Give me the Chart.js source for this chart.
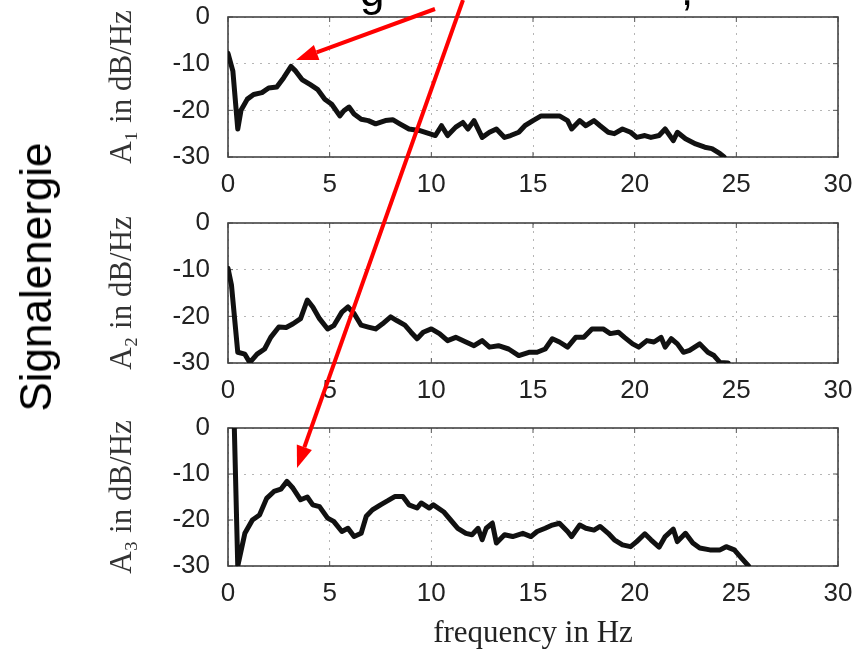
<!DOCTYPE html>
<html>
<head>
<meta charset="utf-8">
<script src="https://cdn.jsdelivr.net/npm/chart.js@4.4.1/dist/chart.umd.min.js"></script>
<style>
  body { margin: 0; background: #fff; }
  #wrap { position: relative; width: 859px; height: 652px; overflow: hidden; background: #fff; }
  canvas { position: absolute; left: 0; }
  .label { position: absolute; font-family: "Liberation Sans", Arial, sans-serif; color: #000; white-space: nowrap; }
</style>
</head>
<body>
<div id="wrap">
  <canvas id="c1" width="859" height="205" style="top:0"></canvas>
  <canvas id="c2" width="859" height="205" style="top:205px"></canvas>
  <canvas id="c3" width="859" height="242" style="top:410px"></canvas>
  <canvas id="arrows" width="859" height="652" style="top:0"></canvas>
  <div class="label" id="side" style="font-size:44px;left:36px;top:277px;transform:translate(-50%,-50%) rotate(-90deg);">Signalenergie</div>
  <div class="label" style="font-size:44px;line-height:44px;left:360px;top:-31px;">g</div>
  <div class="label" style="font-size:44px;line-height:44px;left:681px;top:-32px;">,</div>
</div>
<script>
// frequency axis ticks and amplitude ticks
var freqTicks = [0, 5, 10, 15, 20, 25, 30];
var ampTicks = [-30, -20, -10, 0];

// A1
var f1 = [0, 0.24, 0.48, 0.64, 0.95, 1.26, 1.67, 2.0, 2.4, 2.74, 3.1, 3.33, 3.64, 4.05, 4.4, 4.76, 5.1, 5.5, 5.7, 5.95,
  6.2, 6.55, 6.9, 7.26, 7.74, 8.1, 8.45, 8.9, 9.4, 9.9, 10.2, 10.5, 10.8, 11.2, 11.55, 11.8, 12.1, 12.5, 12.86, 13.2,
  13.6, 13.9, 14.3, 14.6, 15.0, 15.4, 15.8, 16.3, 16.7, 16.9, 17.3, 17.6, 18.0, 18.3, 18.7, 19.0, 19.4, 19.8, 20.1, 20.5,
  20.8, 21.2, 21.5, 21.9, 22.1, 22.5, 23.0, 23.45, 23.8, 24.2, 24.4];
var a1 = [-7.8, -11.6, -24, -20, -17.6, -16.6, -16.2, -15.2, -15, -13, -10.6, -11.6, -13.4, -14.5, -15.5, -17.6, -18.7, -21.2, -20.1, -19.3,
  -20.8, -21.9, -22.2, -22.9, -22.2, -22, -22.9, -24, -24.3, -25, -25.4, -23.3, -25.4, -23.6, -22.6, -24, -22.2, -25.8, -24.7, -24,
  -25.8, -25.4, -24.7, -23.3, -22.2, -21.2, -21.2, -21.2, -22.2, -24, -22.2, -23.3, -22.2, -23.3, -24.7, -25, -24, -24.7, -25.8, -25.4,
  -25.8, -25.4, -24, -26.5, -24.7, -26.1, -27.2, -27.9, -28.2, -29.3, -30];

// A2
var f2 = [0, 0.17, 0.48, 0.83, 1.07, 1.43, 1.8, 2.1, 2.5, 2.86, 3.2, 3.57, 3.9, 4.17, 4.5, 4.9, 5.2, 5.6, 5.9, 6.2,
  6.55, 6.9, 7.26, 7.6, 8.0, 8.3, 8.7, 9.0, 9.3, 9.6, 10.0, 10.4, 10.8, 11.2, 11.7, 12.1, 12.5, 12.86, 13.3, 13.8,
  14.3, 14.8, 15.2, 15.6, 15.95, 16.3, 16.7, 17.1, 17.5, 17.9, 18.45, 18.8, 19.2, 19.5, 19.9, 20.2, 20.6, 20.95, 21.3, 21.5,
  21.8, 22.1, 22.4, 22.7, 23.2, 23.6, 23.9, 24.2, 24.6];
var a2 = [-9.7, -13.3, -27.7, -28.1, -29.9, -28.1, -27, -24.5, -22.3, -22.4, -21.6, -20.5, -16.5, -18, -20.5, -22.7, -22, -19.1, -18, -19.4,
  -21.9, -22.3, -22.7, -21.6, -20.1, -20.9, -21.9, -23.4, -24.8, -23.4, -22.7, -23.7, -25.2, -24.5, -25.5, -26.3, -25.2, -26.6, -26.3, -27,
  -28.4, -27.7, -27.7, -27, -24.8, -25.5, -26.6, -24.5, -24.5, -22.7, -22.7, -23.7, -23.4, -24.5, -25.9, -26.6, -25.2, -25.5, -24.5, -26.6,
  -24.8, -25.9, -27.7, -27.3, -25.9, -27.7, -28.4, -29.9, -30];

// A3
var f3 = [0.3, 0.48, 0.83, 1.2, 1.55, 1.9, 2.26, 2.6, 2.9, 3.2, 3.57, 3.9, 4.17, 4.5, 4.9, 5.2, 5.6, 5.9, 6.2, 6.55,
  6.8, 7.1, 7.5, 7.86, 8.2, 8.6, 8.9, 9.3, 9.5, 9.9, 10.1, 10.6, 10.95, 11.3, 11.7, 12.0, 12.3, 12.5, 12.7, 13.0,
  13.2, 13.6, 14.0, 14.5, 14.9, 15.2, 15.6, 15.95, 16.3, 16.7, 16.9, 17.3, 17.6, 18.0, 18.3, 18.7, 19.0, 19.4, 19.8, 20.1,
  20.5, 20.8, 21.2, 21.5, 21.9, 22.1, 22.5, 22.86, 23.2, 23.7, 24.2, 24.5, 24.9, 25.2, 25.6];
var a3 = [2, -30, -22.9, -20, -18.9, -15.3, -13.8, -13.3, -11.6, -13.1, -15.6, -15, -16.7, -17.1, -19.6, -20.3, -22.5, -21.8, -23.6, -22.9,
  -19.2, -17.8, -16.7, -15.8, -14.9, -14.9, -16.7, -17.4, -16.3, -17.4, -16.7, -18.2, -20, -21.8, -22.9, -23.2, -21.8, -24.3, -21.8, -20.7,
  -25, -23.2, -23.6, -22.9, -23.6, -22.5, -21.8, -21.1, -20.7, -22.5, -23.6, -21.1, -21.8, -22.2, -21.4, -22.9, -24.3, -25.4, -25.8, -24.7,
  -23, -24.3, -25.9, -23.6, -22, -24.7, -22.9, -25, -26.1, -26.5, -26.5, -25.8, -26.5, -28, -30];

var tickFont = { family: '"Liberation Sans", Arial, sans-serif', size: 26 };
var serifFont = { family: '"Liberation Serif", "DejaVu Serif", serif', size: 31 };

// box around plot + small inward ticks (matlab style)
var framePlugin = {
  id: 'frame',
  beforeDatasetsDraw: function(chart) {
    var ctx = chart.ctx, a = chart.chartArea;
    var xs = chart.scales.x, ys = chart.scales.y;
    ctx.save();
    ctx.strokeStyle = '#555';
    ctx.lineWidth = 1;
    ctx.beginPath();
    xs.ticks.forEach(function(t) {
      var px = xs.getPixelForValue(t.value);
      ctx.moveTo(px, a.bottom); ctx.lineTo(px, a.bottom - 5);
      ctx.moveTo(px, a.top); ctx.lineTo(px, a.top + 5);
    });
    ys.ticks.forEach(function(t) {
      var py = ys.getPixelForValue(t.value);
      ctx.moveTo(a.left, py); ctx.lineTo(a.left + 5, py);
      ctx.moveTo(a.right, py); ctx.lineTo(a.right - 5, py);
    });
    ctx.stroke();
    ctx.strokeStyle = '#444';
    ctx.lineWidth = 1.6;
    ctx.strokeRect(a.left, a.top, a.right - a.left, a.bottom - a.top);
    ctx.restore();
  }
};

function makePlot(id, fs, as, yTitle, pad, xHeight, xTitle) {
  var pts = fs.map(function(f, i) { return { x: f, y: as[i] }; });
  return new Chart(document.getElementById(id).getContext('2d'), {
    type: 'line',
    data: {
      datasets: [{
        data: pts,
        borderColor: '#111',
        borderWidth: 5,
        pointRadius: 0,
        tension: 0,
        borderJoinStyle: 'round',
        borderCapStyle: 'round'
      }]
    },
    options: {
      responsive: false,
      animation: false,
      devicePixelRatio: 1,
      layout: { padding: pad },
      plugins: { legend: { display: false }, tooltip: { enabled: false } },
      scales: {
        x: {
          type: 'linear',
          min: 0, max: 30,
          afterBuildTicks: function(s) { s.ticks = freqTicks.map(function(v) { return { value: v }; }); },
          afterFit: function(s) { s.height = xHeight; },
          // invisible tick marks give the label gap (ticks.padding would also grow the plot margins)
          grid: { color: '#b5b5b5', lineWidth: 1, drawTicks: true, tickLength: 12, tickColor: 'rgba(0,0,0,0)' },
          border: { display: false, dash: [2, 6] },
          ticks: { font: tickFont, color: '#222', padding: 0, maxRotation: 0 },
          title: { display: !!xTitle, text: xTitle || '', font: serifFont, color: '#222', padding: { top: 0, bottom: 0 } }
        },
        y: {
          min: -30, max: 0,
          afterBuildTicks: function(s) { s.ticks = ampTicks.map(function(v) { return { value: v }; }); },
          afterFit: function(s) { s.width = 124; },
          grid: { color: '#b5b5b5', lineWidth: 1, drawTicks: true, tickLength: 18, tickColor: 'rgba(0,0,0,0)' },
          border: { display: false, dash: [2, 6] },
          ticks: { font: tickFont, color: '#222', padding: 0 },
          title: { display: true, text: yTitle, font: serifFont, color: '#333', padding: { top: 0, bottom: 0 } }
        }
      }
    },
    plugins: [framePlugin]
  });
}

makePlot('c1', f1, a1, 'A\u2081 in dB/Hz', { left: 104, right: 21, top: 17, bottom: 8 }, 40);
makePlot('c2', f2, a2, 'A\u2082 in dB/Hz', { left: 104, right: 21, top: 18, bottom: 7 }, 40);
makePlot('c3', f3, a3, 'A\u2083 in dB/Hz', { left: 104, right: 21, top: 18, bottom: 0 }, 86, 'frequency in Hz');

// red annotation arrows
var ac = document.getElementById('arrows').getContext('2d');
function arrow(x1, y1, x2, y2) {
  var ang = Math.atan2(y2 - y1, x2 - x1);
  var len = 22, half = 8;
  var bx = x2 - len * Math.cos(ang), by = y2 - len * Math.sin(ang);
  ac.strokeStyle = '#ff0000';
  ac.fillStyle = '#ff0000';
  ac.lineWidth = 4;
  ac.beginPath();
  ac.moveTo(x1, y1);
  ac.lineTo(bx, by);
  ac.stroke();
  ac.beginPath();
  ac.moveTo(x2, y2);
  ac.lineTo(bx + half * Math.sin(ang), by - half * Math.cos(ang));
  ac.lineTo(bx - half * Math.sin(ang), by + half * Math.cos(ang));
  ac.closePath();
  ac.fill();
}
arrow(435, 9, 296, 60);
arrow(463, 0, 297, 468);
</script>
</body>
</html>
